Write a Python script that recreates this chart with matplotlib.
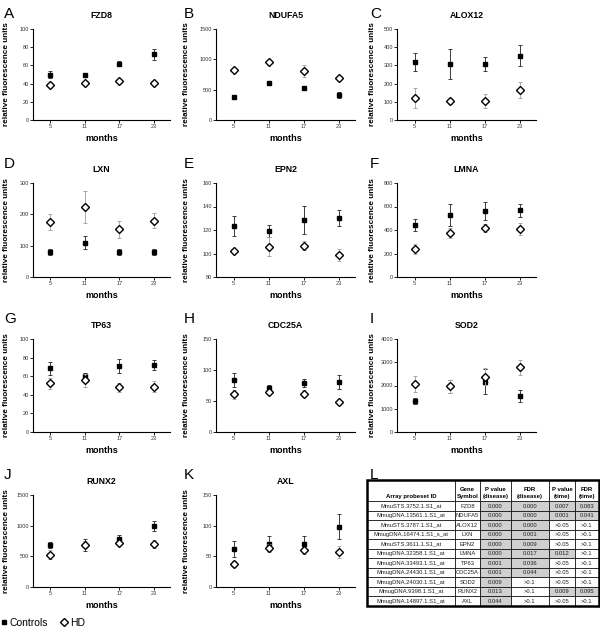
import matplotlib
matplotlib.use('Agg')
import matplotlib.pyplot as plt
from matplotlib.lines import Line2D
from matplotlib.patches import Rectangle

plt.rcParams['font.family'] = ['Liberation Sans', 'DejaVu Sans']

# ---------------- data ----------------
months = [5, 11, 17, 23]

fzd8_ctrl = [50, 50, 62, 72]
fzd8_ctrl_err = [4, 2, 3, 6]
fzd8_hd = [39, 41, 43, 41]
fzd8_hd_err = [2, 2, 2, 2]
fzd8_yticks = [0, 20, 40, 60, 80, 100]

ndufa5_ctrl = [380, 605, 522, 412]
ndufa5_ctrl_err = [25, 25, 25, 45]
ndufa5_hd = [824, 961, 813, 687]
ndufa5_hd_err = [30, 30, 100, 25]
ndufa5_yticks = [0, 500, 1000, 1500]

alox12_ctrl = [320, 308, 308, 352]
alox12_ctrl_err = [50, 80, 37, 58]
alox12_hd = [119, 104, 104, 165]
alox12_hd_err = [55, 15, 37, 42]
alox12_yticks = [0, 100, 200, 300, 400, 500]

lxn_ctrl = [80, 110, 80, 80]
lxn_ctrl_err = [10, 20, 10, 10]
lxn_hd = [175, 223, 152, 180]
lxn_hd_err = [25, 50, 28, 23]
lxn_yticks = [0, 100, 200, 300]

epn2_ctrl = [123.4, 119.4, 128.6, 130]
epn2_ctrl_err = [8.5, 5, 12, 7]
epn2_hd = [102.3, 105.7, 106.6, 99]
epn2_hd_err = [1, 8, 4, 5]
epn2_yticks = [80, 100, 120, 140, 160]

lmna_ctrl = [443, 529, 563, 569]
lmna_ctrl_err = [50, 95, 75, 55]
lmna_hd = [240, 374, 420, 409]
lmna_hd_err = [45, 45, 35, 50]
lmna_yticks = [0, 200, 400, 600, 800]

tp63_ctrl = [68.6, 60.7, 71, 72]
tp63_ctrl_err = [7, 3, 8, 5]
tp63_hd = [52.5, 55.7, 48.2, 48.6]
tp63_hd_err = [6, 7, 5, 6]
tp63_yticks = [0, 20, 40, 60, 80, 100]

cdc25a_ctrl = [84, 70.7, 78.8, 80.4]
cdc25a_ctrl_err = [11, 5, 6, 11]
cdc25a_hd = [61, 64.3, 62, 47.7]
cdc25a_hd_err = [7, 3, 6, 4]
cdc25a_yticks = [0, 50, 100, 150]

sod2_ctrl = [1314, 1957, 2171, 1543]
sod2_ctrl_err = [130, 300, 540, 250]
sod2_hd = [2057, 1957, 2386, 2786]
sod2_hd_err = [350, 300, 350, 320]
sod2_yticks = [0, 1000, 2000, 3000, 4000]

runx2_ctrl = [690, 690, 783, 991]
runx2_ctrl_err = [50, 100, 70, 85]
runx2_hd = [526, 690, 717, 701]
runx2_hd_err = [70, 60, 40, 70]
runx2_yticks = [0, 500, 1000, 1500]

axl_ctrl = [61.3, 70.4, 69.4, 98.4]
axl_ctrl_err = [13, 12, 13, 20]
axl_hd = [37.6, 63.4, 59.7, 57]
axl_hd_err = [5, 6, 6, 10]
axl_yticks = [0, 50, 100, 150]

panel_letters = ['A', 'B', 'C', 'D', 'E', 'F', 'G', 'H', 'I', 'J', 'K']
gene_names = ['FZD8', 'NDUFA5', 'ALOX12', 'LXN', 'EPN2', 'LMNA',
              'TP63', 'CDC25A', 'SOD2', 'RUNX2', 'AXL']

# table data
probeset_ids = ['MmuSTS.3752.1.S1_at', 'MmugDNA.13561.1.S1_at', 'MmuSTS.3787.1.S1_at',
                'MmugDNA.16474.1.S1_s_at', 'MmuSTS.3611.1.S1_at', 'MmugDNA.32358.1.S1_at',
                'MmugDNA.33493.1.S1_at', 'MmugDNA.24430.1.S1_at', 'MmugDNA.24030.1.S1_at',
                'MmugDNA.9398.1.S1_at', 'MmugDNA.14897.1.S1_at']
gene_symbols = ['FZD8', 'NDUFA5', 'ALOX12', 'LXN', 'EPN2', 'LMNA', 'TP63',
                'CDC25A', 'SOD2', 'RUNX2', 'AXL']
p_disease = ['0.000', '0.000', '0.000', '0.000', '0.000', '0.000', '0.001',
             '0.001', '0.009', '0.013', '0.044']
fdr_disease = ['0.000', '0.000', '0.000', '0.001', '0.009', '0.017', '0.036',
               '0.044', '>0.1', '>0.1', '>0.1']
p_time = ['0.007', '0.001', '>0.05', '>0.05', '>0.05', '0.012', '>0.05',
          '>0.05', '>0.05', '0.009', '>0.05']
fdr_time = ['0.083', '0.041', '>0.1', '>0.1', '>0.1', '>0.1', '>0.1',
            '>0.1', '>0.1', '0.095', '>0.1']
table_headers = ['Array probeset ID', 'Gene\nSymbol', 'P value\n(disease)',
                 'FDR\n(disease)', 'P value\n(time)', 'FDR\n(time)']

# ---------------- layout ----------------
W, H = 600, 628
fig = plt.figure(figsize=(6.0, 6.28), dpi=100)


def fx(x):
    return x / W


def fy(y):
    return 1 - y / H


rows = [(29, 120), (183, 277), (339, 432), (495, 587)]
cols = [(33, 170), (216, 355), (397, 536)]
letter_x = [4, 184, 370]
letter_base = [18, 168, 323, 479]
ylabel_x = [7, 187, 372]

series = [
    (fzd8_ctrl, fzd8_ctrl_err, fzd8_hd, fzd8_hd_err, fzd8_yticks),
    (ndufa5_ctrl, ndufa5_ctrl_err, ndufa5_hd, ndufa5_hd_err, ndufa5_yticks),
    (alox12_ctrl, alox12_ctrl_err, alox12_hd, alox12_hd_err, alox12_yticks),
    (lxn_ctrl, lxn_ctrl_err, lxn_hd, lxn_hd_err, lxn_yticks),
    (epn2_ctrl, epn2_ctrl_err, epn2_hd, epn2_hd_err, epn2_yticks),
    (lmna_ctrl, lmna_ctrl_err, lmna_hd, lmna_hd_err, lmna_yticks),
    (tp63_ctrl, tp63_ctrl_err, tp63_hd, tp63_hd_err, tp63_yticks),
    (cdc25a_ctrl, cdc25a_ctrl_err, cdc25a_hd, cdc25a_hd_err, cdc25a_yticks),
    (sod2_ctrl, sod2_ctrl_err, sod2_hd, sod2_hd_err, sod2_yticks),
    (runx2_ctrl, runx2_ctrl_err, runx2_hd, runx2_hd_err, runx2_yticks),
    (axl_ctrl, axl_ctrl_err, axl_hd, axl_hd_err, axl_yticks),
]

for i, (ctrl, ctrl_err, hd, hd_err, yt) in enumerate(series):
    r, c = divmod(i, 3)
    x0, x1 = cols[c]
    yt_px, yb_px = rows[r]
    ax = fig.add_axes([fx(x0), fy(yb_px), (x1 - x0) / W, (yb_px - yt_px) / H])
    ax.errorbar(months, ctrl, yerr=ctrl_err, fmt='none', ecolor='#3a3a3a',
                elinewidth=0.7, capsize=1.6, capthick=0.7, zorder=2)
    ax.plot(months, ctrl, 's', color='black', ms=3.1, zorder=3)
    ax.errorbar(months, hd, yerr=hd_err, fmt='none', ecolor='#a8a8a8',
                elinewidth=0.7, capsize=1.6, capthick=0.7, zorder=4)
    ax.plot(months, hd, 'D', mfc='white', mec='black', ms=3.6, mew=1.0, zorder=5)
    ax.set_xlim(2.0, 25.8)
    ax.set_ylim(yt[0], yt[-1])
    ax.set_yticks(yt)
    ax.set_xticks(months)
    ax.set_xticklabels([str(m) for m in months])
    for s in ['top', 'right']:
        ax.spines[s].set_visible(False)
    for s in ['left', 'bottom']:
        ax.spines[s].set_linewidth(0.8)
    ax.tick_params(axis='both', length=2, width=0.6, pad=0.8,
                   labelsize=4.0, labelcolor='#333333')
    xc = (x0 + x1) / 2
    fig.text(fx(xc), fy(yt_px - 14), gene_names[i], ha='center', va='center',
             fontsize=6.3, fontweight='bold')
    fig.text(fx(xc), fy(yb_px + 18.5), 'months', ha='center', va='center',
             fontsize=6.5, fontweight='bold')
    fig.text(fx(ylabel_x[c]), fy((yt_px + yb_px) / 2), 'relative fluorescence units',
             rotation=90, ha='center', va='center', fontsize=5.9, fontweight='bold')
    fig.text(fx(letter_x[c]), fy(letter_base[r]), panel_letters[i], ha='left',
             va='baseline', fontsize=11)

# panel L letter
fig.text(fx(letter_x[2]), fy(letter_base[3]), 'L', ha='left', va='baseline', fontsize=11)

# legend
legend_handles = [Line2D([], [], ls='none', marker='s', color='black', ms=3.1),
                  Line2D([], [], ls='none', marker='D', mfc='white', mec='black',
                         ms=3.6, mew=1.0)]
fig.legend(legend_handles, ['Controls', 'HD'], loc='center left',
           bbox_to_anchor=(fx(1), fy(623)), ncol=2, frameon=False,
           fontsize=7.5, handlelength=0.5, handletextpad=0.3, columnspacing=1.3,
           borderaxespad=0, borderpad=0)

# ---------------- table ----------------
tax = fig.add_axes([0, 0, 1, 1])
tax.set_xlim(0, W)
tax.set_ylim(H, 0)
tax.axis('off')

col_bounds = [367, 455, 480, 511, 549, 575, 599]
t_top, t_head, t_bot = 480, 501, 606
n_rows = len(probeset_ids)
row_h = (t_bot - t_head) / n_rows
gray = '#cfcfcf'

columns = [probeset_ids, gene_symbols, p_disease, fdr_disease, p_time, fdr_time]
for ri in range(n_rows):
    y0 = t_head + ri * row_h
    for ci, colvals in enumerate(columns):
        val = colvals[ri]
        shaded = ci >= 2 and not val.startswith('>')
        rect = Rectangle((col_bounds[ci], y0), col_bounds[ci + 1] - col_bounds[ci], row_h,
                         facecolor=gray if shaded else 'white', edgecolor='black',
                         linewidth=0.5)
        tax.add_patch(rect)
        tax.text((col_bounds[ci] + col_bounds[ci + 1]) / 2, y0 + row_h / 2 + 0.3, val,
                 ha='center', va='center', fontsize=4.2, color='#222222')

for ci, hdr in enumerate(table_headers):
    rect = Rectangle((col_bounds[ci], t_top), col_bounds[ci + 1] - col_bounds[ci],
                     t_head - t_top, facecolor='white', edgecolor='black', linewidth=0.5)
    tax.add_patch(rect)
    tax.text((col_bounds[ci] + col_bounds[ci + 1]) / 2, t_head - 2.0, hdr,
             ha='center', va='bottom', fontsize=4.3, fontweight='bold',
             linespacing=1.45)

tax.add_patch(Rectangle((col_bounds[0], t_top), col_bounds[-1] - col_bounds[0],
                        t_bot - t_top, facecolor='none', edgecolor='black', linewidth=1.8))

fig.savefig('out.png', dpi=100)
